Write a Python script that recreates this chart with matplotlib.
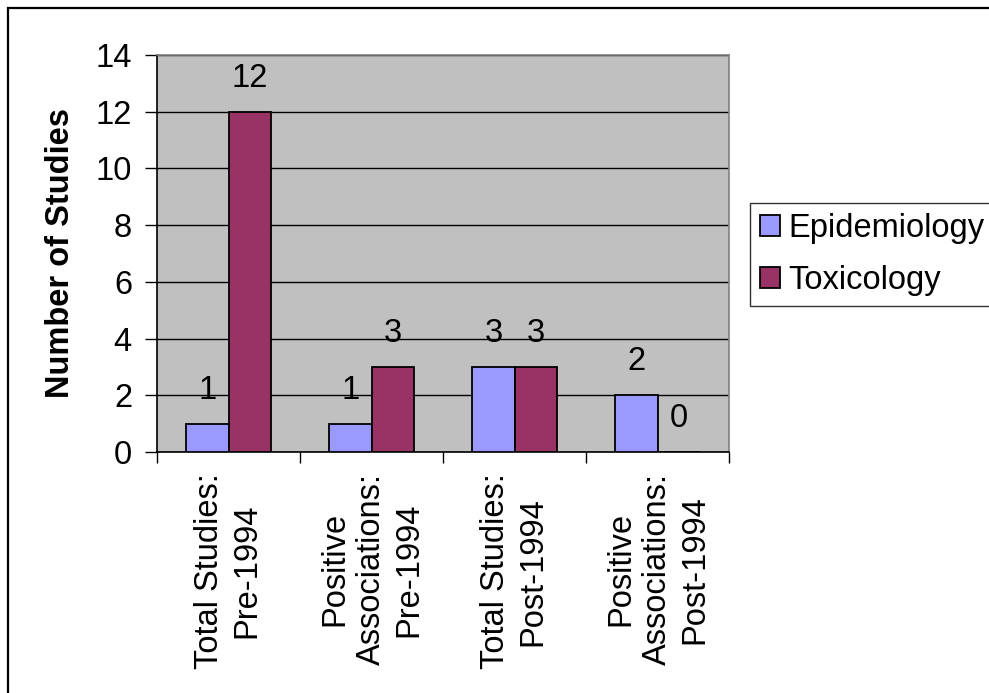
import matplotlib
matplotlib.use("Agg")
import matplotlib.pyplot as plt
from matplotlib.patches import Rectangle
import numpy as np

categories = ["Total Studies:\nPre-1994", "Positive\nAssociations:\nPre-1994",
              "Total Studies:\nPost-1994", "Positive\nAssociations:\nPost-1994"]
epidemiology = [1, 1, 3, 2]
toxicology = [12, 3, 3, 0]
yticks = [0, 2, 4, 6, 8, 10, 12, 14]

plt.rcParams['font.family'] = ['Liberation Sans', 'DejaVu Sans']
FS = 23.5

W, H = 989, 693
fig = plt.figure(figsize=(W/100, H/100), dpi=100)
ax = fig.add_axes([157/W, 1-452/H, (729-157)/W, (452-55)/H])
ax.set_facecolor('#C0C0C0')

x = np.arange(len(categories))
bw = 0.295
b1 = ax.bar(x - bw/2, epidemiology, bw, color='#9999FF', edgecolor='black', linewidth=1.3,
            label='Epidemiology', zorder=3)
b2 = ax.bar(x + bw/2, toxicology, bw, color='#993366', edgecolor='black', linewidth=1.3,
            label='Toxicology', zorder=3)

for bars, vals in ((b1, epidemiology), (b2, toxicology)):
    for r, v in zip(bars, vals):
        ax.annotate(str(v), (r.get_x() + r.get_width()/2, r.get_height()),
                    xytext=(0, 13), textcoords='offset points',
                    ha='center', va='bottom', fontsize=FS)

ax.set_xlim(-0.5, len(categories) - 0.5)
ax.set_ylim(0, 14)
ax.set_yticks(yticks)
ax.set_yticklabels([str(t) for t in yticks], fontsize=FS)
ax.yaxis.grid(True, color='black', linewidth=1.0, zorder=1)
ax.set_axisbelow(True)

ax.set_xticks(np.arange(-0.5, len(categories)), minor=False)
ax.set_xticklabels([])
ax.tick_params(axis='x', length=8, width=1, direction='out')
ax.tick_params(axis='y', length=9, width=1, direction='out', pad=9)
for xi, lab in zip(x, categories):
    ax.text(xi, -0.75, lab, rotation=90, ha='center', va='top', multialignment='center',
            fontsize=FS, linespacing=1.25)

ax.spines['left'].set_color('black')
ax.spines['bottom'].set_color('black')
ax.spines['top'].set_color('#808080')
ax.spines['right'].set_color('#808080')
for s in ax.spines.values():
    s.set_linewidth(1.2)

ax.set_ylabel('Number of Studies', fontsize=FS, fontweight='bold', labelpad=14)

leg = ax.legend(loc='upper left', bbox_to_anchor=(750/W, 1-203/H), bbox_transform=fig.transFigure,
                fontsize=FS, frameon=True, fancybox=False, edgecolor='black',
                handlelength=0.62, handleheight=0.62, handletextpad=0.25, borderpad=0.3,
                labelspacing=0.65, borderaxespad=0)
leg.get_frame().set_linewidth(1.0)

fig.patches.append(Rectangle((8/W, -0.1), 1.2, 1 - 8/H + 0.1, transform=fig.transFigure,
                             fill=False, edgecolor='black', linewidth=1.6))

fig.savefig('out.png', dpi=100)
